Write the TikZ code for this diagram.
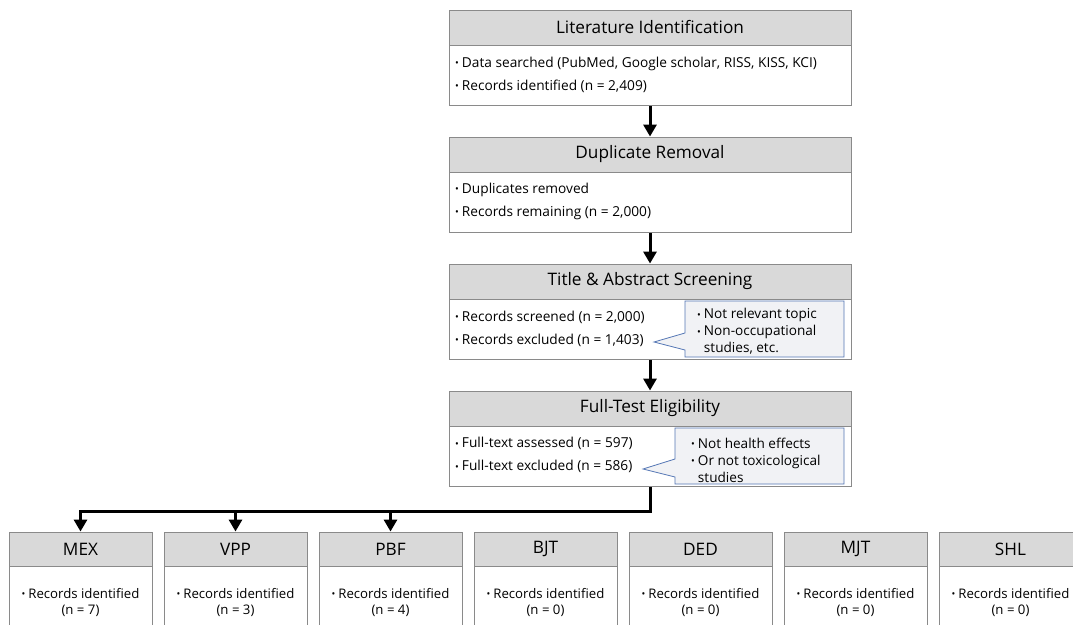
\documentclass[tikz,border=0pt]{standalone}
\usepackage{fontspec}
\setmainfont{Open Sans}
\usetikzlibrary{arrows.meta}
\definecolor{hdrfill}{HTML}{D9D9D9}
\definecolor{boxline}{HTML}{8A8A8A}
\definecolor{callfill}{HTML}{F1F2F5}
\definecolor{callline}{HTML}{5577B5}
\newcommand\bul{{\fontsize{10}{10}\selectfont\raisebox{0.6pt}{•}}\hspace{3pt}}
\begin{document}
\begin{tikzpicture}[x=1pt,y=-1pt,
  hdr/.style={draw=boxline, fill=hdrfill, line width=0.9pt, inner sep=0pt, font=\fontsize{17.2}{19}\selectfont},
  bodybox/.style={draw=boxline, fill=white, line width=0.9pt, inner sep=0pt},
  txt/.style={inner sep=0pt, align=left, anchor=west, font=\fontsize{13.7}{23}\selectfont},
  bottxt/.style={inner sep=0pt, align=center, font=\fontsize{13.2}{16}\selectfont},
  calltxt/.style={inner sep=0pt, align=left, anchor=west, font=\fontsize{13.6}{17}\selectfont},
  flow/.style={line width=3pt, -{Triangle[width=13pt,length=12pt]}},
  callout/.style={draw=callline, fill=callfill, line width=0.8pt, line join=miter}
]
\clip (0,0) rectangle (1073,624);
\fill[white] (0,0) rectangle (1073,624);

% top boxes
\node[hdr, minimum width=402pt, minimum height=35pt] (h1) at (650,27.5) {Literature Identification};
\node[bodybox, minimum width=402pt, minimum height=60pt, anchor=north] (b1) at (h1.south) {};
\node[txt] (t1) at (455,74.5) {\bul Data searched (PubMed, Google scholar, RISS, KISS, KCI)\\\bul Records identified (n = 2,409)};

\node[hdr, minimum width=402pt, minimum height=35pt] (h2) at (650,154.5) {Duplicate Removal};
\node[bodybox, minimum width=402pt, minimum height=60pt, anchor=north] (b2) at (h2.south) {};
\node[txt] (t2) at (455,201.5) {\bul Duplicates removed\\\bul Records remaining (n = 2,000)};

\node[hdr, minimum width=402pt, minimum height=35pt] (h3) at (650,281.5) {Title \& Abstract Screening};
\node[bodybox, minimum width=402pt, minimum height=60pt, anchor=north] (b3) at (h3.south) {};
\node[txt] (t3) at (455,328.5) {\bul Records screened (n = 2,000)\\\bul Records excluded (n = 1,403)};

\node[hdr, minimum width=402pt, minimum height=35pt] (h4) at (650,408.5) {Full-Test Eligibility};
\node[bodybox, minimum width=402pt, minimum height=60pt, anchor=north] (b4) at (h4.south) {};
\node[txt] (t4) at (455,455) {\bul Full-text assessed (n = 597)\\\bul Full-text excluded (n = 586)};

% callouts
\draw[callout] (685,301) -- (844,301) -- (844,357) -- (685,357) -- (685,350) -- (654,342) -- (685,333) -- cycle;
\node[calltxt] (c1) at (697,331.5) {\bul Not relevant topic\\\bul Non-occupational\\\hphantom{\bul}studies, etc.};
\draw[callout] (675,428) -- (844,428) -- (844,484) -- (675,484) -- (675,477) -- (643,469) -- (675,459) -- cycle;
\node[calltxt] (c2) at (691,460) {\bul Not health effects\\\bul Or not toxicological\\\hphantom{\bul}studies};

% top arrows
\draw[flow] (b1.south) -- (h2.north);
\draw[flow] (b2.south) -- (h3.north);
\draw[flow] (b3.south) -- (h4.north);

% bottom boxes
\foreach \k/\name/\n in {0/MEX/7, 1/VPP/3, 2/PBF/4, 3/BJT/0, 4/DED/0, 5/MJT/0, 6/SHL/0}{
  \node[hdr, minimum width=143pt, minimum height=34pt] (m\k) at (80.5+155*\k,549) {\name};
  \node[bodybox, minimum width=143pt, minimum height=80pt, anchor=north] (mb\k) at (m\k.south) {};
  \node[bottxt] (mt\k) at (80.5+155*\k,602) {\bul Records identified\\(n = \n)};
}

% bottom connectors
\coordinate (j) at (650,511);
\draw[flow, line join=miter] (b4.south) -- (j) -| (m0.north);
\draw[flow] (m1.north |- j) -- (m1.north);
\draw[flow] (m2.north |- j) -- (m2.north);
\end{tikzpicture}
\end{document}
